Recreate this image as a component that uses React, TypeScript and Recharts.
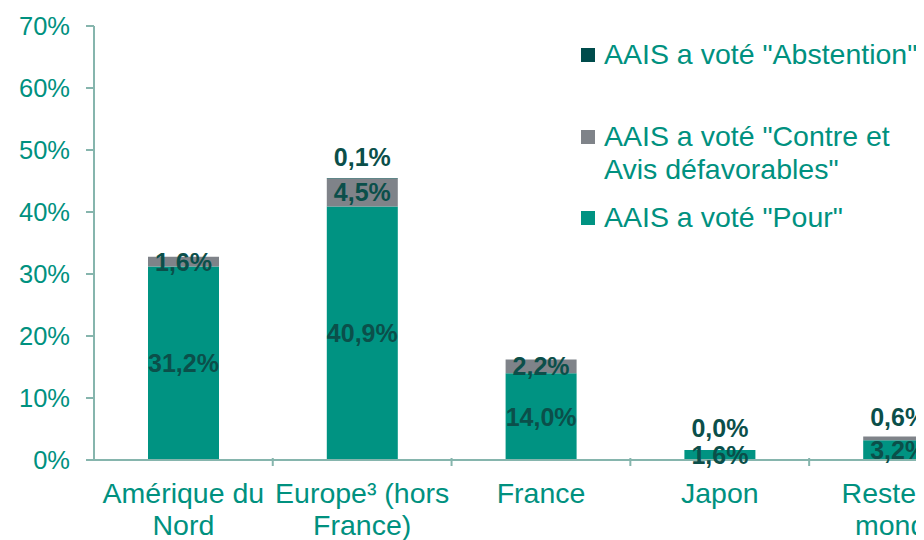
import { BarChart, Bar, XAxis, YAxis, LabelList } from "recharts";

const categories = ["Amérique du Nord", "Europe³ (hors France)", "France", "Japon", "Reste du monde"];
const tickLines = [["Amérique du", "Nord"], ["Europe³ (hors", "France)"], ["France"], ["Japon"], ["Reste du", "monde"]];
const pour = [31.2, 40.9, 14.0, 1.6, 3.2];
const contre = [1.6, 4.5, 2.2, 0.0, 0.6];
const abstention = [0, 0.1, 0, 0, 0];
const yTicks = [0, 10, 20, 30, 40, 50, 60, 70];

const data = categories.map((name, i) => ({
  name,
  pour: pour[i],
  contre: contre[i],
  abstention: abstention[i],
}));

const TEAL = "#009382";
const GREY = "#7f8389";
const DARK = "#004c4c";
const TEXT = "#00917f";
const LABEL = "#0b4f4a";
const AXIS = "#86b5ad";
const FONT = "'Liberation Sans', Arial, sans-serif";

const fmt = (v: number) => v.toFixed(1).replace(".", ",") + "%";

const lbl = (x: number, y: number, v: number) => (
  <text x={x} y={y} textAnchor="middle" dominantBaseline="central"
    fill={LABEL} fontSize={25} fontWeight="bold" fontFamily={FONT}>
    {fmt(v)}
  </text>
);

// pour label in the middle; when the grey part is empty its 0,0% goes above the bar
const PourLabel = (props: any) => {
  const { x, y, width, height, value, index } = props;
  return (
    <g>
      {lbl(x + width / 2, y + height / 2, value)}
      {contre[index] === 0 && lbl(x + width / 2, y - 22, 0)}
    </g>
  );
};

const ContreLabel = (props: any) => {
  const { x, y, width, height, value } = props;
  if (!value) return null;
  const cy = value >= 1 ? y + height / 2 : y - 19;
  return lbl(x + width / 2, cy, value);
};

const AbstLabel = (props: any) => {
  const { x, y, width, value } = props;
  if (!value) return null;
  return lbl(x + width / 2, y - 21, value);
};

const BAND = 178.7;

const XTick = (props: any) => {
  const { x, y, index } = props;
  const lines = tickLines[index] || [];
  return (
    <g>
      <line x1={x + BAND / 2} x2={x + BAND / 2} y1={y - 10} y2={y - 2} stroke={AXIS} strokeWidth={2} />
      {lines.map((l, i) => (
        <text key={i} x={x} y={y + 35 + i * 32} textAnchor="middle" fill={TEXT} fontSize={28.5} fontFamily={FONT}>
          {l}
        </text>
      ))}
    </g>
  );
};

const legendItems = [
  { label: ['AAIS a voté "Abstention"'], color: DARK, top: 0 },
  { label: ['AAIS a voté "Contre et', 'Avis défavorables"'], color: GREY, top: 82 },
  { label: ['AAIS a voté "Pour"'], color: TEAL, top: 163 },
];

export default function App() {
  return (
    <div style={{ position: "relative", width: 916, height: 532, overflow: "hidden", background: "#fff" }}>
      <BarChart width={1000} height={532} data={data} margin={{ top: 18, right: 20, left: 0, bottom: 0 }} barSize={71}>
        <YAxis
          domain={[0, 70]}
          ticks={yTicks}
          width={86}
          tickFormatter={(v: number) => `${v}%`}
          tick={{ fill: TEXT, fontSize: 25.5, fontFamily: FONT }}
          axisLine={{ stroke: AXIS, strokeWidth: 2 }}
          tickLine={{ stroke: AXIS, strokeWidth: 2 }}
          tickSize={8}
          tickMargin={16}
        />
        <XAxis
          dataKey="name"
          height={80}
          interval={0}
          tick={<XTick />}
          tickLine={false}
          axisLine={{ stroke: AXIS, strokeWidth: 2 }}
        />
        <Bar dataKey="pour" stackId="a" fill={TEAL} isAnimationActive={false}>
          <LabelList dataKey="pour" content={<PourLabel />} />
        </Bar>
        <Bar dataKey="contre" stackId="a" fill={GREY} isAnimationActive={false}>
          <LabelList dataKey="contre" content={<ContreLabel />} />
        </Bar>
        <Bar dataKey="abstention" stackId="a" fill={DARK} isAnimationActive={false}>
          <LabelList dataKey="abstention" content={<AbstLabel />} />
        </Bar>
      </BarChart>
      <div style={{ position: "absolute", top: 30, left: 573, width: 360, height: 200, fontFamily: FONT }}>
        {legendItems.map((it, i) => (
          <div key={i} style={{ position: "absolute", top: it.top, left: 0, whiteSpace: "nowrap" }}>
            <div style={{ position: "absolute", left: 0, top: 10, width: 14, height: 14, background: it.color }} />
            <div style={{ marginLeft: 23, color: TEXT, fontSize: 28.5, lineHeight: "33px" }}>
              {it.label.map((l, j) => (
                <div key={j}>{l}</div>
              ))}
            </div>
          </div>
        ))}
      </div>
    </div>
  );
}
